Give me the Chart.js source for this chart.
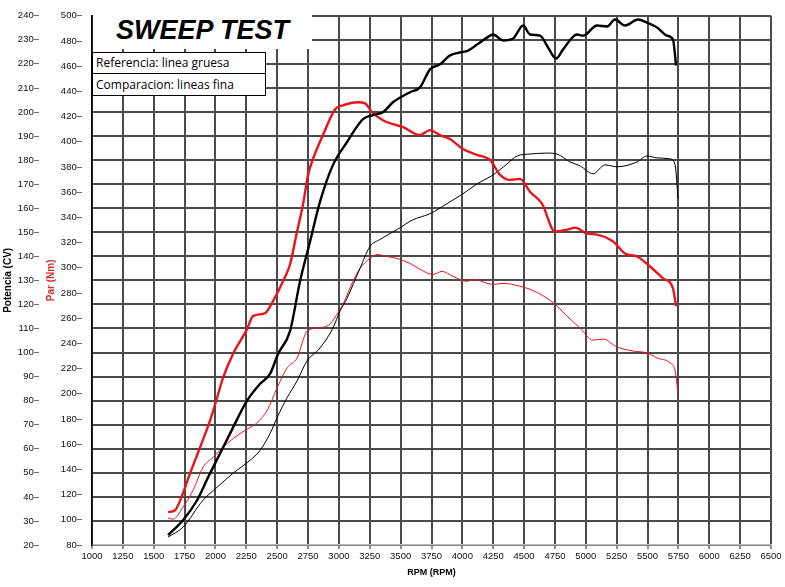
<!DOCTYPE html>
<html>
<head>
<meta charset="utf-8">
<script src="https://cdn.jsdelivr.net/npm/chart.js@4.4.1/dist/chart.umd.min.js"></script>
<style>
html,body{margin:0;padding:0;background:#fff;}
#wrap{position:relative;width:785px;height:587px;overflow:hidden;}
#c{position:absolute;left:0;top:0;}
#titleBox{position:absolute;left:93px;top:14px;width:219px;height:35px;background:#fff;color:#000;
  font:italic bold 27px "Liberation Sans",Arial,sans-serif;text-align:center;line-height:32px;}
.leg{position:absolute;left:92px;width:174px;background:#fff;border:1px solid #000;box-sizing:border-box;
  font:12px "Open Sans",sans-serif;color:#000;padding-left:3px;white-space:nowrap;}
#leg1{top:52px;height:22px;line-height:20px;}
#leg2{top:73px;height:23px;line-height:21px;}
</style>
</head>
<body>
<div id="wrap">
<canvas id="c" width="785" height="587"></canvas>
<div id="titleBox">SWEEP TEST</div>
<div class="leg" id="leg1">Referencia: linea gruesa</div>
<div class="leg" id="leg2">Comparacion: lineas fina</div>
</div>
<script>
// ---- Data ----
const titleText = 'SWEEP TEST';
const xTitle = 'RPM (RPM)';
const powerTitle = 'Potencia (CV)';
const torqueTitle = 'Par (Nm)';

// Reference run (thick lines)
const refPowerRpm = [1616,1737,1851,1940,2037,2118,2256,2361,2442,2507,2604,2685,2766,2847,2952,3066,3195,3276,3357,3438,3576,3657,3738,3819,3900,3981,4046,4119,4224,4248,4330,4411,4492,4548,4629,4694,4759,4816,4929,4978,5091,5172,5237,5318,5423,5496,5577,5658,5706,5731];
const refPowerCv  = [24.1,30.3,38.6,48.1,58.0,66.3,80.0,87.0,91.1,99.4,108.9,129.6,146.1,162.7,178.0,187.5,197.0,198.7,199.9,204.0,208.2,210.2,217.7,219.8,223.5,224.7,225.5,228.0,231.7,232.2,229.7,230.5,235.9,232.2,231.7,226.8,222.2,226.0,232.2,231.7,235.9,235.5,238.4,235.9,238.4,237.1,235.1,231.7,230.1,219.3];

const refTorqueRpm = [1616,1672,1737,1794,1875,1956,2013,2061,2142,2256,2304,2401,2466,2547,2604,2661,2709,2750,2790,2871,2969,3033,3090,3155,3212,3268,3357,3438,3519,3657,3738,3819,3900,4005,4119,4224,4305,4386,4467,4548,4645,4751,4848,4913,5010,5091,5221,5318,5415,5520,5626,5706,5731];
const refTorqueNm  = [106.1,107.6,121.1,136.8,157.4,178.7,196.8,212.6,231.6,251.3,261.6,263.9,273.4,289.2,302.6,328.7,350.0,373.7,386.3,405.3,425.8,428.9,430.5,431.3,430.5,423.4,417.1,413.9,411.6,405.3,409.2,405.3,402.1,394.2,389.5,385.5,373.7,369.7,370.5,360.3,350.8,328.7,330.2,331.8,327.1,326.3,320.8,311.3,308.9,301.0,291.6,283.7,269.5];

// Comparison run (thin lines)
const cmpPowerRpm = [1616,1737,1899,2013,2142,2280,2361,2442,2499,2580,2661,2742,2847,2952,3009,3066,3171,3252,3333,3471,3600,3738,3876,4005,4119,4248,4362,4443,4548,4686,4767,4872,4953,5059,5156,5253,5415,5496,5577,5682,5723,5747];
const cmpPowerCv  = [23.3,27.4,38.6,44.0,49.8,55.2,59.3,66.3,72.9,81.2,88.2,96.5,101.9,110.2,117.2,122.6,135.0,144.1,147.0,151.1,155.2,157.7,161.9,166.0,170.1,173.8,178.4,181.7,182.5,182.9,182.5,179.2,177.6,174.3,178.0,177.2,179.2,181.7,180.9,180.5,178.0,163.9];

const cmpTorqueRpm = [1616,1656,1737,1818,1899,1980,2094,2199,2280,2337,2418,2499,2580,2661,2742,2823,2928,2985,3033,3114,3171,3252,3309,3390,3471,3576,3657,3762,3835,3924,4038,4087,4248,4330,4467,4548,4686,4751,4848,4953,5059,5140,5253,5383,5496,5577,5682,5723,5747];
const cmpTorqueNm  = [101.3,100.5,110.0,123.4,141.6,149.5,160.5,168.4,173.2,177.1,186.6,204.7,220.5,228.4,249.7,252.1,255.3,263.2,271.0,289.2,299.5,307.4,310.5,308.9,307.4,303.4,298.7,294.7,297.1,293.2,289.2,290.8,286.8,287.6,285.3,282.9,275.8,271.0,261.6,252.1,242.6,243.4,237.1,233.9,232.4,228.4,224.5,218.2,200.0];

// Axis ranges / tick steps
const rpmRange = [1000, 6500], rpmStep = 250;
const powerRange = [20, 240], powerStep = 10;
const torqueRange = [80, 500], torqueStep = 20;

// ---- Chart ----
const zip = (xs, ys) => xs.map((x, i) => ({x: x, y: ys[i]}));
const RED = '#e8141c';
const FONT = '"Liberation Sans", Arial, sans-serif';
const GRID = '#4a4a4a';

function line(label, xs, ys, axis, color, width) {
  return {label: label, data: zip(xs, ys), yAxisID: axis, borderColor: color, backgroundColor: color,
    borderWidth: width, pointRadius: 0, fill: false, cubicInterpolationMode: 'monotone'};
}

new Chart(document.getElementById('c'), {
  type: 'line',
  data: {datasets: [
    line('Potencia referencia', refPowerRpm, refPowerCv, 'yPow', '#000', 2.4),
    line('Par referencia', refTorqueRpm, refTorqueNm, 'yPar', RED, 2.4),
    line('Potencia comparacion', cmpPowerRpm, cmpPowerCv, 'yPow', '#000', 1),
    line('Par comparacion', cmpTorqueRpm, cmpTorqueNm, 'yPar', RED, 1)
  ]},
  options: {
    responsive: false, animation: false,
    layout: {padding: {top: 7.3, right: 14, bottom: 0, left: 0}},
    plugins: {legend: {display: false}, tooltip: {enabled: false}, title: {display: false}},
    scales: {
      x: {type: 'linear', position: 'bottom', min: rpmRange[0], max: rpmRange[1],
        ticks: {stepSize: rpmStep, autoSkip: false, maxRotation: 0, padding: 2, color: '#111',
          font: {family: FONT, size: 9.5}, callback: v => String(v)},
        grid: {color: GRID, lineWidth: 2, tickLength: 4, tickColor: '#222', tickWidth: 1},
        border: {display: true, color: '#bbb', width: 1.5},
        title: {display: true, text: xTitle, color: '#000', font: {family: FONT, size: 9, weight: 'bold'}, padding: {top: 0, bottom: 9.5}},
        afterFit: s => { s.height = 42; }
      },
      yPow: {type: 'linear', position: 'left', weight: 2, min: powerRange[0], max: powerRange[1],
        ticks: {stepSize: powerStep, autoSkip: false, padding: 3, color: '#111',
          font: {family: FONT, size: 9.5}, callback: v => v + '\u2013'},
        grid: {color: GRID, lineWidth: 2, drawTicks: false},
        border: {display: false},
        title: {display: true, text: powerTitle, color: '#000', font: {family: FONT, size: 10, weight: 'bold'}, padding: {top: 2.5, bottom: 0}},
        afterFit: s => { s.width = 42; }
      },
      yPar: {type: 'linear', position: 'left', weight: 1, min: torqueRange[0], max: torqueRange[1],
        ticks: {stepSize: torqueStep, autoSkip: false, padding: 10, color: '#111',
          font: {family: FONT, size: 9.5}, callback: v => v + '\u2013'},
        grid: {drawOnChartArea: false, drawTicks: false},
        border: {display: true, color: '#000', width: 1.5},
        title: {display: true, text: torqueTitle, color: '#d42a2a', font: {family: FONT, size: 10, weight: 'bold'}, padding: {top: 3.5, bottom: 0}},
        afterFit: s => { s.width = 50; }
      }
    }
  }
});
</script>
</body>
</html>
